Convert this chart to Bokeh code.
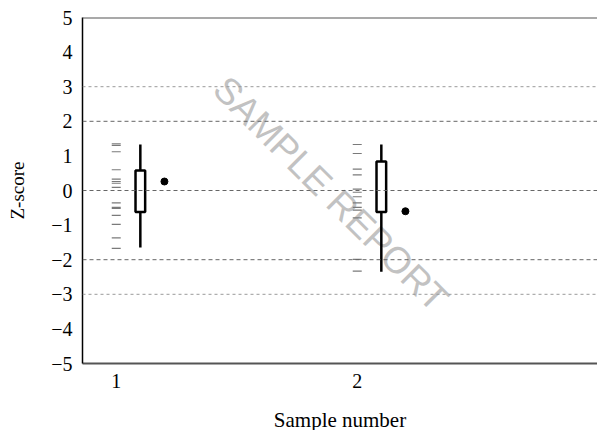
from bokeh.plotting import figure
from bokeh.models import Range1d, FixedTicker, Span, ColumnDataSource
from bokeh.core.properties import value
from bokeh.embed import file_html
from bokeh.resources import INLINE

# ---- data ----
samples = [1, 2]
q1 = [-0.62, -0.62]
median = [0.13, -0.04]
q3 = [0.58, 0.84]
whisker_low = [-1.65, -2.35]
whisker_high = [1.33, 1.33]
means = [0.26, -0.60]
rug_1 = [1.35, 1.30, 1.12, 0.60, 0.33, 0.26, 0.21, 0.09, -0.36, -0.49, -0.52, -0.72, -0.98, -1.37, -1.67]
rug_2 = [1.33, 1.07, 0.62, 0.45, 0.04, -0.05, -0.18, -0.36, -0.49, -0.57, -0.79, -1.99, -2.33]
y_ticks = [-5, -4, -3, -2, -1, 0, 1, 2, 3, 4, 5]
x_ticks = [1, 2]
ref_lines_major = [-2, 0, 2]
ref_lines_minor = [-3, 3]

# layout constants
BOX_OFFSET = 0.1
MEAN_OFFSET = 0.2

p = figure(width=597, height=434, output_backend="svg", toolbar_location=None,
           x_range=Range1d(0.86, 2.997), y_range=Range1d(-5, 5),
           min_border_top=17, min_border_left=82, min_border_right=0, min_border_bottom=0)
p.xgrid.visible = False
p.ygrid.visible = False
p.outline_line_color = None

# watermark
p.text(x=[1.89], y=[-0.1], text=["SAMPLE REPORT"], angle=-45, angle_units="deg",
       text_font=value("Liberation Sans"), text_font_size="37px", text_color="#c2c2c2",
       text_align="center", text_baseline="middle")

for v in ref_lines_minor:
    p.add_layout(Span(location=v, dimension="width", line_color="#9a9a9a",
                      line_dash="3 3", line_width=1))
for v in ref_lines_major:
    p.add_layout(Span(location=v, dimension="width", line_color="#666666",
                      line_dash="4 3", line_width=1))
# top border of the frame
p.add_layout(Span(location=y_ticks[-1], dimension="width", line_color="#555555", line_width=2))

# rug of individual results
p.scatter(x=[samples[0]] * len(rug_1), y=rug_1, marker="dash", size=9,
          line_color="#7a7a7a", line_width=1.2)
p.scatter(x=[samples[1]] * len(rug_2), y=rug_2, marker="dash", size=9,
          line_color="#7a7a7a", line_width=1.2)

bx = [s + BOX_OFFSET for s in samples]
src = ColumnDataSource(dict(x=bx, q1=q1, q3=q3, med=median, lo=whisker_low, hi=whisker_high,
                            mx=[s + MEAN_OFFSET for s in samples], mean=means))
p.segment(x0="x", y0="lo", x1="x", y1="hi", source=src, line_color="black", line_width=2.5)
p.vbar(x="x", bottom="q1", top="q3", width=0.04, source=src,
       fill_color="white", line_color="black", line_width=2.5)
p.rect(x="x", y="med", width=0.04, height=0, source=src, line_color="black", line_width=2.5)
p.scatter(x="mx", y="mean", source=src, size=7, fill_color="black", line_color="black")

# axes
p.yaxis.ticker = FixedTicker(ticks=y_ticks)
p.yaxis.major_label_overrides = {t: (("\u2212" + str(-t)) if t < 0 else str(t)) for t in y_ticks}
p.xaxis.ticker = FixedTicker(ticks=x_ticks)
for ax in (p.xaxis[0], p.yaxis[0]):
    ax.major_tick_out = 0
    ax.major_tick_in = 0
    ax.minor_tick_out = 0
    ax.minor_tick_in = 0
    ax.major_label_text_font = "Liberation Serif"
    ax.major_label_text_font_size = "20px"
    ax.major_label_text_color = "black"
    ax.axis_label_text_font = "Liberation Serif"
    ax.axis_label_text_font_style = "normal"
    ax.axis_label_text_color = "black"
p.yaxis.major_label_standoff = 10
p.yaxis.axis_label = "Z-score"
p.yaxis.axis_label_text_font_size = "19px"
p.yaxis.axis_label_standoff = 20
p.yaxis.axis_line_color = "black"
p.yaxis.axis_line_width = 1.5
p.xaxis.major_label_standoff = 10
p.xaxis.axis_label = "Sample number"
p.xaxis.axis_label_text_font_size = "21px"
p.xaxis.axis_label_standoff = 17
p.xaxis.axis_line_color = "#555555"
p.xaxis.axis_line_width = 2

open("out.html", "w").write(file_html(p, INLINE))
